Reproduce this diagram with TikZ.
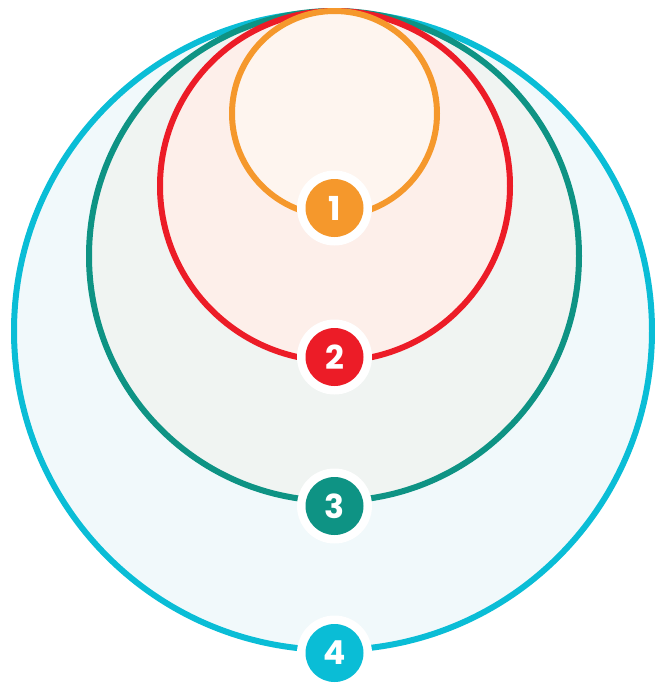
\documentclass[tikz,border=0pt]{standalone}
\usepackage{fontspec}
\newfontfamily\badgefont{Poppins}[UprightFont=* Bold]
\definecolor{cCyan}{HTML}{0ABDD6}
\definecolor{cTeal}{HTML}{0E9384}
\definecolor{cRed}{HTML}{EC1C27}
\definecolor{cOrange}{HTML}{F5982C}
\definecolor{fCyan}{HTML}{F1F9FB}
\definecolor{fTeal}{HTML}{F0F4F2}
\definecolor{fRed}{HTML}{FDEFEA}
\definecolor{fOrange}{HTML}{FEF5EF}
\tikzset{
  ring/.style={line width=6pt},
  halo/.style={circle, fill=white, minimum size=75pt, inner sep=0pt},
  badge/.style={circle, fill=#1, minimum size=58pt, inner sep=0pt, text=white, font=\badgefont\fontsize{33}{33}\selectfont}
}
\begin{document}
\begin{tikzpicture}[x=1pt,y=-1pt]
\useasboundingbox (0,0) rectangle (655,689);
\draw[ring, draw=cCyan, fill=fCyan] (333,331) circle (319);
\draw[ring, draw=cTeal, fill=fTeal] (334,256) circle (245);
\draw[ring, draw=cRed, fill=fRed] (335,186) circle (175);
\draw[ring, draw=cOrange, fill=fOrange] (334.5,113.5) circle (102.5);
\foreach \n/\c/\y in {1/cOrange/208, 2/cRed/357, 3/cTeal/506, 4/cCyan/653}{
  \node[halo] (h\n) at (334.5,\y) {};
  \node[badge=\c] (b\n) at (h\n) {\n};
}
\end{tikzpicture}
\end{document}
